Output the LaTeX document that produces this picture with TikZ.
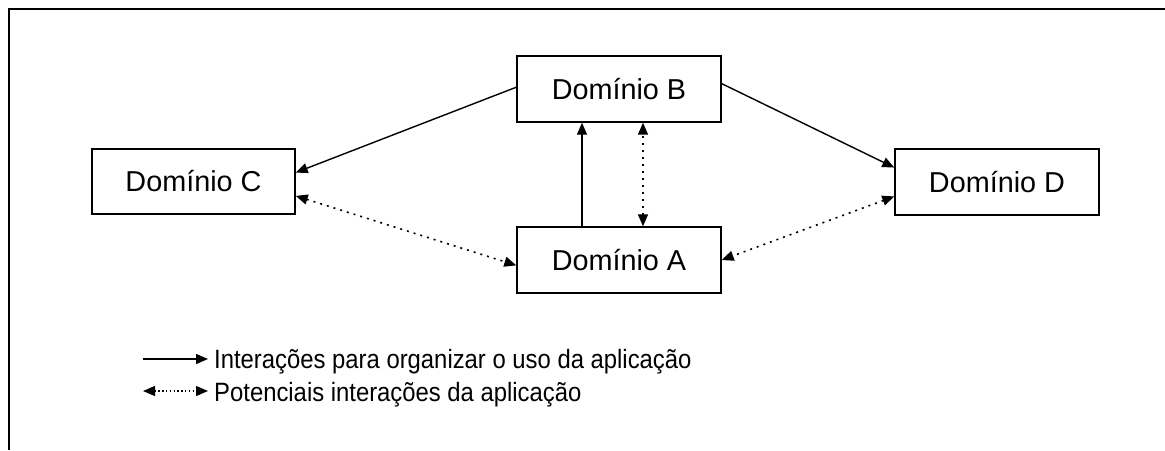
\documentclass[tikz,border=0pt]{standalone}
\usepackage{fontspec}
\setmainfont{Liberation Sans}
\newfontfamily\narrowfont[FakeStretch=0.9]{Liberation Sans}
\usepackage{tikz}
\usetikzlibrary{arrows.meta, positioning, calc}
\tikzstyle{dombox} = [rectangle, minimum width=204pt, minimum height=66pt, text centered, draw=black, line width=1.4pt, font=\fontsize{28.8}{32}\selectfont]
\tikzstyle{legendtxt} = [inner sep=0pt, anchor=base west, font=\narrowfont\fontsize{26.5}{30}\selectfont]
\tikzstyle{arrow} = [line width=1.4pt, -{Triangle[length=12pt, width=10pt]}]
\tikzstyle{darrow} = [line width=1.6pt, dash pattern=on 2pt off 5pt, {Triangle[length=12pt, width=10pt]}-{Triangle[length=12pt, width=10pt]}]

\begin{document}
\begin{tikzpicture}[x=1pt, y=-1pt]
\useasboundingbox (0,0) rectangle (1165,450);

% Frame
\draw [line width=2.5pt] (9,450) -- (9,9) -- (1165,9);

% Nodes
\node (domB) [dombox] at (619,89) {Domínio B};
\node (domA) [dombox] at (619,260) {Domínio A};
\node (domC) [dombox, minimum width=203pt, minimum height=65pt] at (193.5,181.5) {Domínio C};
\node (domD) [dombox] at (997,182) {Domínio D};

% Arrows
\draw [arrow] (domB.179) -- (domC.5);
\draw [arrow] (domB.3) -- (domD.172);
\draw [arrow] ([xshift=-37pt]domA.north) -- ([xshift=-37pt]domB.south);
\draw [darrow] ([xshift=24pt]domA.north) -- ([xshift=24pt]domB.south);
\draw [darrow] (domC.-8.7) -- (domA.183);
\draw [darrow] (domD.188) -- (domA.east);

% Legend
\coordinate (solidS) at (143,359);
\coordinate (solidE) at (208,359);
\coordinate (dotS) at (143,391);
\coordinate (dotE) at (208,391);
\node (solidTxt) [legendtxt] at (214,368) {Interações para organizar o uso da aplicação};
\node (dotTxt) [legendtxt] at (214,401) {Potenciais interações da aplicação};
\draw [arrow] (solidS) -- (solidE);
\draw [darrow, line width=1.3pt, dash pattern=on 1.3pt off 2.5pt] (dotS) -- (dotE);

\end{tikzpicture}
\end{document}
